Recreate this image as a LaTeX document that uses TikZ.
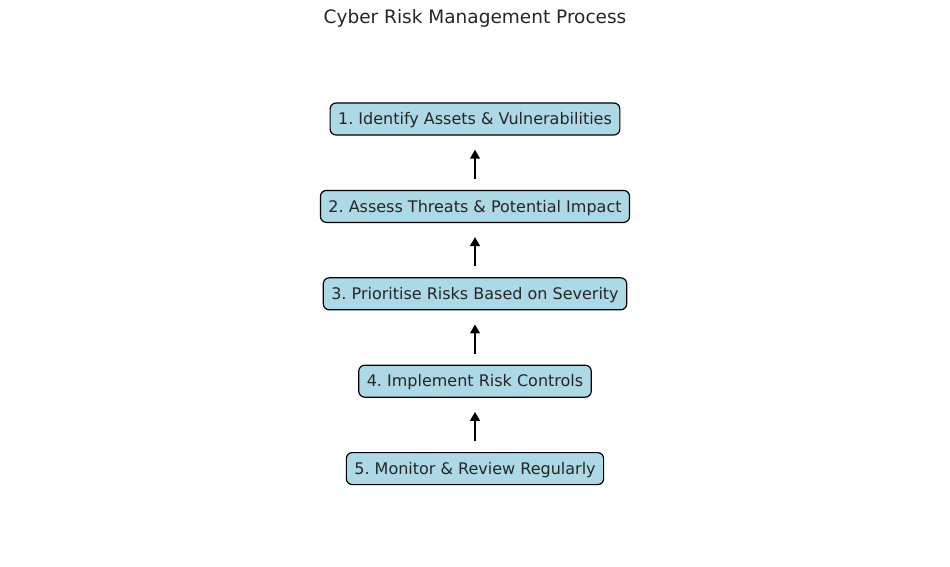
\documentclass[tikz,border=0pt]{standalone}
\usepackage{fontspec}
\setmainfont{DejaVu Sans}
\usetikzlibrary{positioning, arrows.meta}
\definecolor{boxblue}{HTML}{ADD8E6}
\definecolor{inkgray}{HTML}{262626}
\frenchspacing

\begin{document}
\begin{tikzpicture}[x=1pt, y=-1pt, node distance=54.2pt,
        stage/.style={draw=black, line width=1.2pt, fill=boxblue, rounded corners=6pt,
            text=inkgray, font=\fontsize{16}{19}\selectfont, inner xsep=8pt,
            minimum height=32pt, text height=13.5pt, text depth=2.1pt},
        uparrow/.style={-{Triangle[length=9pt, width=9.5pt]}, line width=2.8pt,
            shorten <=11pt, shorten >=14pt}]
        \useasboundingbox (0,0) rectangle (950,566);
        \node[text=inkgray, font=\fontsize{18.5}{22}\selectfont] (title) at (475,18) {Cyber Risk Management Process};

        \node[stage] at (475,119)         (step 1) {1. Identify Assets \& Vulnerabilities};
        \node[stage, below=of step 1]     (step 2) {2. Assess Threats \& Potential Impact};
        \node[stage, below=of step 2]     (step 3) {3. Prioritise Risks Based on Severity};
        \node[stage, below=of step 3]     (step 4) {4. Implement Risk Controls};
        \node[stage, below=of step 4]     (step 5) {5. Monitor \& Review Regularly};

        \draw[uparrow] (step 2) -- (step 1);
        \draw[uparrow] (step 3) -- (step 2);
        \draw[uparrow] (step 4) -- (step 3);
        \draw[uparrow] (step 5) -- (step 4);
    \end{tikzpicture}
\end{document}
